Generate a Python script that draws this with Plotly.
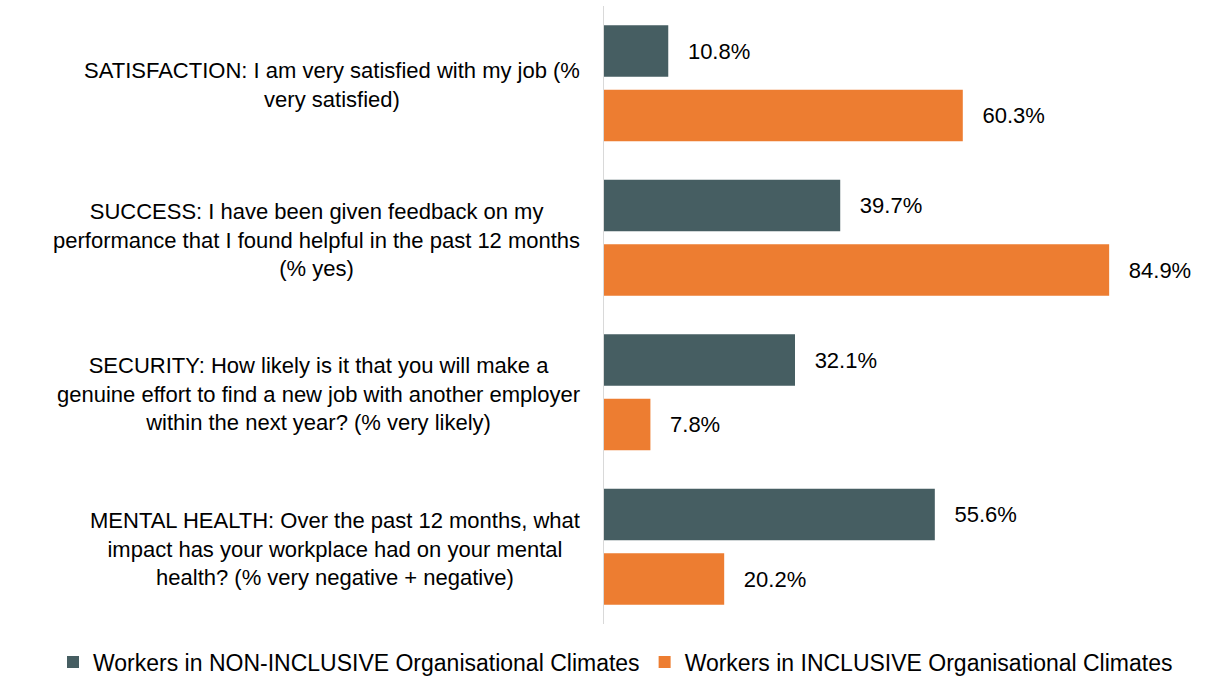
import plotly.graph_objects as go

categories = ["SATISFACTION", "SUCCESS", "SECURITY", "MENTAL HEALTH"]
category_labels = [
    "SATISFACTION: I am very satisfied with my job (%<br>very satisfied)",
    "SUCCESS: I have been given feedback on my<br>performance that I found helpful in the past 12 months<br>(% yes)",
    "SECURITY: How likely is it that you will make a<br>genuine effort to find a new job with another employer<br>within the next year? (% very likely)",
    "MENTAL HEALTH: Over the past 12 months, what<br>impact has your workplace had on your mental<br>health? (% very negative + negative)",
]
series_names = [
    "Workers in NON-INCLUSIVE Organisational Climates",
    "Workers in INCLUSIVE Organisational Climates",
]
non_inclusive = [10.8, 39.7, 32.1, 55.6]
inclusive = [60.3, 84.9, 7.8, 20.2]

FONT = "Liberation Sans, Arial, sans-serif"
FS = 22
W, H = 1227, 680
ML, MR, MT, MB = 604, 28, 6, 56

fig = go.Figure()
for name, vals, color in [
    (series_names[0], non_inclusive, "#465E62"),
    (series_names[1], inclusive, "#ED7D31"),
]:
    fig.add_trace(go.Bar(
        y=categories, x=vals, orientation="h", name=name,
        marker=dict(color=color, line=dict(width=0)),
        text=vals, texttemplate="  \u2009%{x:.1f}%", textposition="outside",
        textfont=dict(family=FONT, size=FS, color="#000000"),
        cliponaxis=False,
    ))

plot_w = W - ML - MR
plot_h = H - MT - MB
for cat, lab in zip(categories, category_labels):
    fig.add_annotation(
        x=(582 - ML) / plot_w, xref="paper", xanchor="right",
        y=cat, yref="y", yanchor="middle", yshift=-2,
        text=lab, align="center", showarrow=False,
        font=dict(family=FONT, size=FS, color="#000000"),
    )

fig.update_layout(
    width=W, height=H,
    margin=dict(l=ML, r=MR, t=MT, b=MB, autoexpand=False),
    paper_bgcolor="white", plot_bgcolor="white",
    barmode="group", bargap=0.165, bargroupgap=0.2,
    font=dict(family=FONT, size=FS, color="#000000"),
    xaxis=dict(range=[0, 100], showgrid=False, zeroline=False,
               showticklabels=False, showline=False, fixedrange=True),
    yaxis=dict(autorange="reversed", showticklabels=False, showgrid=False,
               showline=True, linecolor="#D9D9D9", linewidth=1,
               zeroline=False, ticks=""),
    legend=dict(orientation="h",
                x=(53 - ML) / plot_w, xanchor="left",
                y=-38 / plot_h, yanchor="middle",
                font=dict(family=FONT, size=23, color="#000000"),
                itemwidth=30, tracegroupgap=0),
    showlegend=True,
)

fig.write_html("out.html")
